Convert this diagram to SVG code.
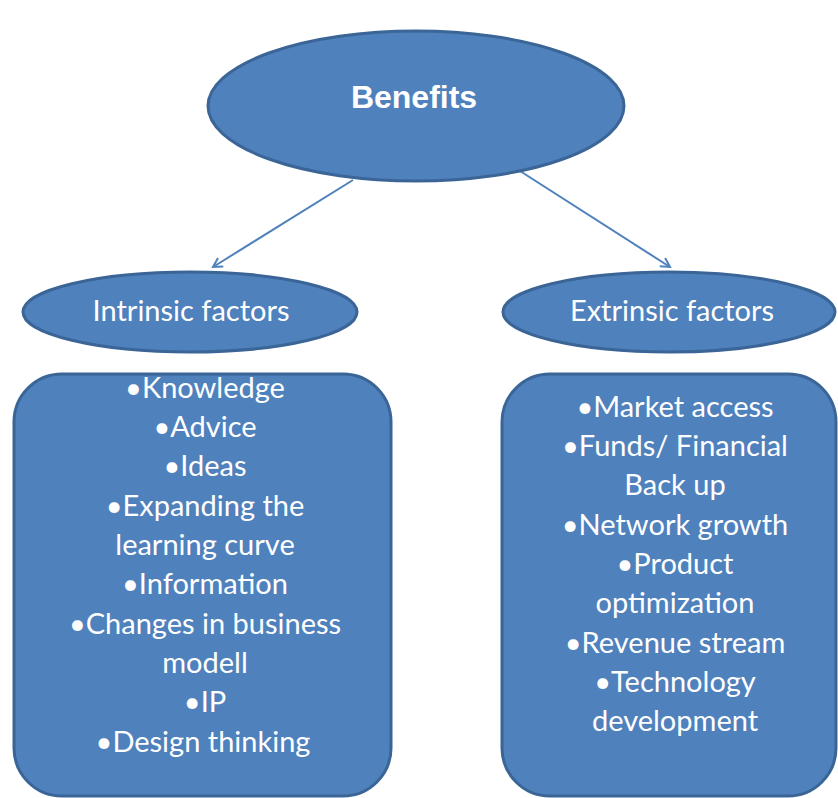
<svg xmlns="http://www.w3.org/2000/svg" width="838" height="798" viewBox="0 0 838 798">
  <style>
    .shape { fill: #4F81BD; stroke: #3A6596; stroke-width: 3; }
    .title { font-family: "Liberation Sans", Arial, sans-serif; font-weight: bold; font-size: 32px; fill: #FFFFFF; text-anchor: middle; }
    .label { font-family: Lato, "Open Sans", sans-serif; font-size: 29px; fill: #FFFFFF; text-anchor: middle; }
    .link { fill: none; stroke: #4F81BD; stroke-width: 2; }
  </style>
  <defs>
    <marker id="arrow" markerWidth="12" markerHeight="12" refX="10" refY="6" orient="auto" markerUnits="userSpaceOnUse">
      <path d="M1,1 L10,6 L1,11" fill="none" stroke="#4F81BD" stroke-width="2"/>
    </marker>
  </defs>

  <g id="connectors">
    <line class="link" x1="353" y1="180" x2="213" y2="267" marker-end="url(#arrow)"/>
    <line class="link" x1="520" y1="171" x2="670" y2="267" marker-end="url(#arrow)"/>
  </g>

  <g id="benefits">
    <ellipse class="shape" cx="416" cy="106" rx="208" ry="75"/>
    <text class="title" x="414" y="108">Benefits</text>
  </g>

  <g id="intrinsic">
    <ellipse class="shape" cx="190" cy="312" rx="167" ry="40"/>
    <text class="label" x="191" y="321">Intrinsic factors</text>
  </g>

  <g id="extrinsic">
    <ellipse class="shape" cx="669" cy="312" rx="166" ry="40"/>
    <text class="label" x="672" y="321">Extrinsic factors</text>
  </g>

  <g id="intrinsic-list">
    <rect class="shape" x="14" y="374" width="377" height="422" rx="48" ry="48"/>
    <text class="label" x="205" y="398">•Knowledge</text>
    <text class="label" x="205" y="437">•Advice</text>
    <text class="label" x="205" y="476">•Ideas</text>
    <text class="label" x="205" y="516">•Expanding the</text>
    <text class="label" x="205" y="555">learning curve</text>
    <text class="label" x="205" y="594">•Information</text>
    <text class="label" x="205" y="634">•Changes in business</text>
    <text class="label" x="205" y="673">modell</text>
    <text class="label" x="205" y="712">•IP</text>
    <text class="label" x="203" y="752">•Design thinking</text>
  </g>

  <g id="extrinsic-list">
    <rect class="shape" x="502" y="374" width="334" height="422" rx="48" ry="48"/>
    <text class="label" x="675" y="417">•Market access</text>
    <text class="label" x="675" y="456">•Funds/ Financial</text>
    <text class="label" x="675" y="495">Back up</text>
    <text class="label" x="675" y="535">•Network growth</text>
    <text class="label" x="675" y="574">•Product</text>
    <text class="label" x="675" y="613">optimization</text>
    <text class="label" x="675" y="653">•Revenue stream</text>
    <text class="label" x="675" y="692">•Technology</text>
    <text class="label" x="675" y="731">development</text>
  </g>
</svg>
